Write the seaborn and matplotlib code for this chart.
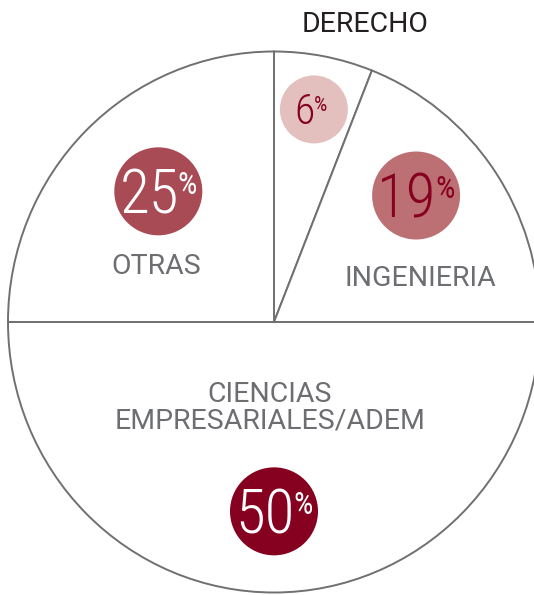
import numpy as np
import matplotlib
matplotlib.use("Agg")
import matplotlib.pyplot as plt
from matplotlib.patches import Ellipse
import seaborn as sns

# data
categories = ["DERECHO", "INGENIERIA", "CIENCIAS\nEMPRESARIALES/ADEM", "OTRAS"]
shares = [6, 19, 50, 25]
bubble_colors = ["#e3c0be", "#bd7074", "#86001f", "#a84b55"]
pct_colors = ["#86001f", "#86001f", "#ffffff", "#ffffff"]
label_colors = ["#231f20", "#6d6e71", "#6d6e71", "#6d6e71"]

sns.set_style("white")
plt.rcParams["font.family"] = ["Roboto Condensed", "Sofia Sans Condensed", "DejaVu Sans"]
label_font = ["Roboto", "DejaVu Sans"]

fig = plt.figure(figsize=(5.34, 5.95), dpi=100)
ax = fig.add_axes([0, 0, 1, 1])

wedges, _ = ax.pie(shares, startangle=90, counterclock=False, radius=1.0,
                   colors=["white"] * len(shares),
                   wedgeprops=dict(edgecolor="#707070", linewidth=1.4))

# pixel scale of the pie (slightly wider than tall in the original)
sx, sy = 266.0, 270.5

# layout for bubbles (polar: radius, angle shift from wedge middle)
bubble_pos = [(0.80, 0.0), (0.71, 7.0), (0.70, 0.0), (0.65, -3.0)]
bubble_r = [34, 44, 44, 44]  # px
num_size = [30, 44, 44, 44]
pct_size = [15, 22, 22, 22]
label_xy = [(365, 24), (420, 279), (270, 408), (156, 266)]  # px

for i, w in enumerate(wedges):
    mid = np.deg2rad((w.theta1 + w.theta2) / 2 + bubble_pos[i][1])
    cx = bubble_pos[i][0] * np.cos(mid)
    cy = bubble_pos[i][0] * np.sin(mid)
    ax.add_patch(Ellipse((cx, cy), 2 * bubble_r[i] / sx, 2 * bubble_r[i] / sy,
                         facecolor=bubble_colors[i], edgecolor="none", zorder=3))
    digit_h = num_size[i] * 0.711 / 72 * 100 / sy
    num = ax.text(cx - 9 / sx, cy - digit_h / 2, str(shares[i]), ha="center",
                  va="baseline", fontsize=num_size[i], color=pct_colors[i],
                  fontweight="light", zorder=4)
    ax.annotate("%", xy=(1, 1), xycoords=num, xytext=(-1, -3),
                textcoords="offset points", ha="left", va="top",
                fontsize=pct_size[i], color=pct_colors[i], zorder=4)
    lx = (label_xy[i][0] - 274) / sx
    ly = (322 - label_xy[i][1]) / sy
    ax.text(lx, ly, categories[i], ha="center", va="center", fontsize=20.5,
            family=label_font, color=label_colors[i], linespacing=1.0,
            zorder=4)

ax.set_aspect("auto")
ax.set_xlim(-274 / sx, 260 / sx)
ax.set_ylim(-273 / sy, 322 / sy)
ax.axis("off")

fig.savefig("out.png", dpi=100)
